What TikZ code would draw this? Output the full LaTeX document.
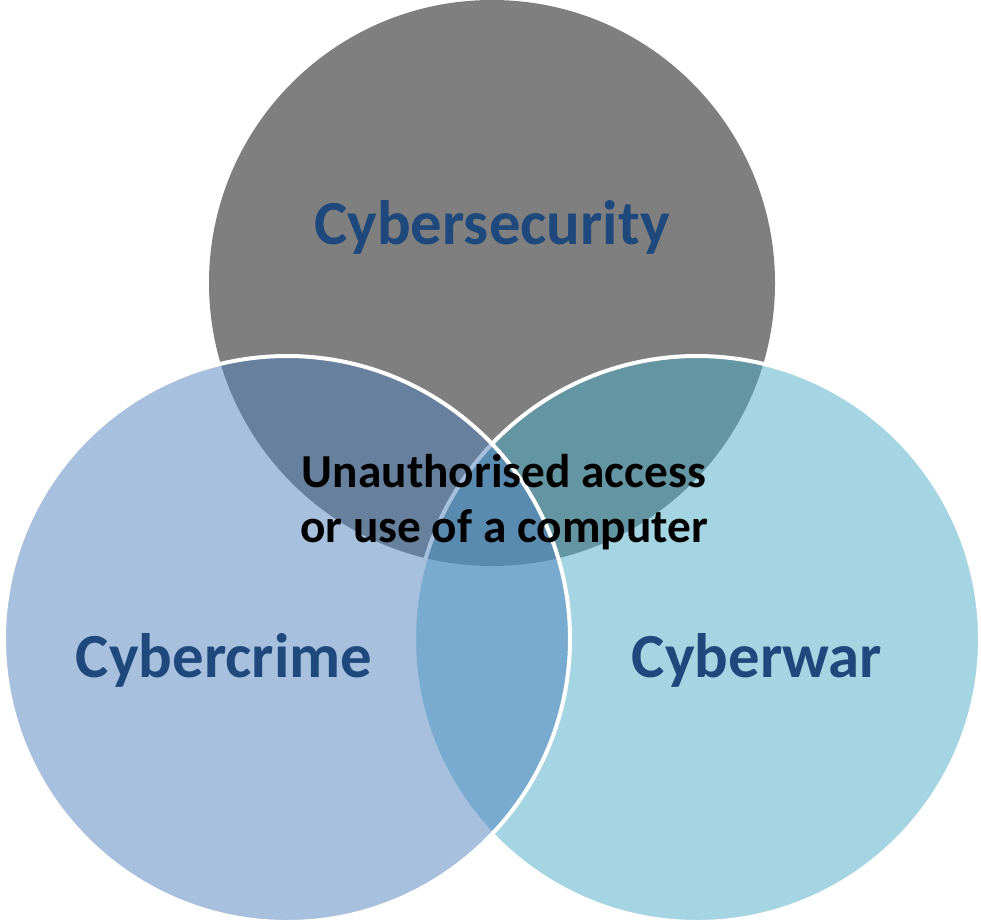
\documentclass[tikz,border=0pt]{standalone}
\usepackage{fontspec}
\setmainfont{Carlito}
\definecolor{secgray}{HTML}{7F7F7F}
\definecolor{crimeblue}{HTML}{4F81BD}
\definecolor{warblue}{HTML}{4BACC6}
\definecolor{labblue}{HTML}{1F497D}

\begin{document}
\begin{tikzpicture}[x=1bp,y=-1bp,
    set/.style = {circle, minimum size=566bp, inner sep=0pt},
    ring/.style = {set, draw=white, line width=4bp, fill opacity=0.5},
    lab/.style = {font=\fontsize{63}{70}\selectfont\bfseries, text=labblue, anchor=base},
    mid/.style = {font=\fontsize{47.5}{55}\selectfont\bfseries, align=center}]
        \useasboundingbox (0,0) rectangle (981,924);
        \node[set, fill=secgray] (sec) at (492,283) {};
        \node[ring, fill=warblue] (war) at (697,639) {};
        \node[ring, fill=crimeblue] (crime) at (287,639) {};
        \node[lab] (seclab) at (492,244) {Cybersecurity};
        \node[lab] (crimelab) at (224,677) {Cybercrime};
        \node[lab] (warlab) at (757,677) {Cyberwar};
        \node[mid] (access) at (504,502) {Unauthorised access\\or use of a computer};
\end{tikzpicture}
\end{document}
